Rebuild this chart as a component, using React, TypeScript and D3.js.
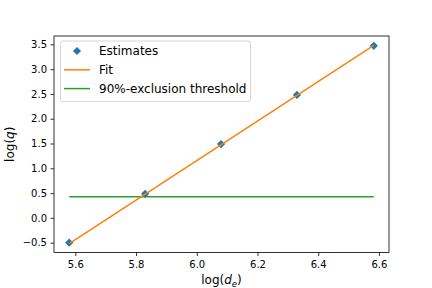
import React, { useEffect, useRef } from 'react';
import * as d3 from 'd3';

// values
const logDe = [5.58, 5.83, 6.08, 6.33, 6.583];
const logQ = [-0.5, 0.485, 1.49, 2.48, 3.47];
const fitX = [5.58, 6.583];
const fitY = [-0.52, 3.48];
const threshold = 0.425;
const xTicks = [5.6, 5.8, 6.0, 6.2, 6.4, 6.6];
const yTicks = [-0.5, 0.0, 0.5, 1.0, 1.5, 2.0, 2.5, 3.0, 3.5];
const legendItems = ['Estimates', 'Fit', '90%-exclusion threshold'];

const BLUE = '#1f77b4';
const ORANGE = '#ff7f0e';
const GREEN = '#2ca02c';
const FONT = 'DejaVu Sans, sans-serif';

export default function App() {
  const svgRef = useRef<SVGSVGElement>(null);

  useEffect(() => {
    if (!svgRef.current) return;
    const width = 432;
    const height = 288;
    const margin = { top: 36, right: 43, bottom: 35.5, left: 54 };

    const svg = d3.select(svgRef.current);
    svg.selectAll('*').remove();

    const x = d3.scaleLinear().domain([5.5298, 6.6332]).range([margin.left, width - margin.right]);
    const y = d3.scaleLinear().domain([-0.6985, 3.6685]).range([height - margin.bottom, margin.top]);

    svg.append('rect').attr('width', width).attr('height', height).attr('fill', '#fff');

    // axes
    const xAxis = svg.append('g')
      .attr('transform', `translate(0,${height - margin.bottom})`)
      .call(d3.axisBottom(x).tickValues(xTicks).tickSize(3.5).tickPadding(4.5).tickFormat(d3.format('.1f')) as any);
    const yAxis = svg.append('g')
      .attr('transform', `translate(${margin.left},0)`)
      .call(d3.axisLeft(y).tickValues(yTicks).tickSize(3.5).tickPadding(3.5).tickFormat((d: any) => d3.format('.1f')(d).replace('-', '\u2212')) as any);
    [xAxis, yAxis].forEach(a => {
      a.select('.domain').remove();
      a.selectAll('line').attr('stroke', '#000').attr('stroke-width', 0.8);
      a.selectAll('text').attr('font-family', FONT).attr('font-size', 10).attr('fill', '#000');
    });

    // frame
    svg.append('rect')
      .attr('x', margin.left).attr('y', margin.top)
      .attr('width', width - margin.left - margin.right)
      .attr('height', height - margin.top - margin.bottom)
      .attr('fill', 'none').attr('stroke', '#000').attr('stroke-width', 0.8);

    const line = d3.line<[number, number]>().x(d => x(d[0])).y(d => y(d[1]));

    // threshold
    svg.append('path')
      .attr('d', line([[fitX[0], threshold], [fitX[1], threshold]]))
      .attr('stroke', GREEN).attr('stroke-width', 1.5).attr('fill', 'none');

    // estimates
    const diamond = d3.symbol().type(d3.symbolSquare).size(34);
    svg.append('g').selectAll('path')
      .data(logDe.map((d, i) => [d, logQ[i]]))
      .enter().append('path')
      .attr('d', diamond() as string)
      .attr('transform', d => `translate(${x(d[0])},${y(d[1])}) rotate(45)`)
      .attr('fill', BLUE);

    // fit
    svg.append('path')
      .attr('d', line(fitX.map((d, i) => [d, fitY[i]] as [number, number])))
      .attr('stroke', ORANGE).attr('stroke-width', 1.5).attr('fill', 'none');

    // labels
    svg.append('text')
      .attr('x', (margin.left + width - margin.right) / 2).attr('y', 284)
      .attr('text-anchor', 'middle').attr('font-family', FONT).attr('font-size', 12)
      .html('log(<tspan font-style="italic">d</tspan><tspan font-style="italic" font-size="8.5" dy="2.5">e</tspan><tspan dy="-2.5">)</tspan>');
    svg.append('text')
      .attr('transform', `translate(13.5,${(margin.top + height - margin.bottom) / 2}) rotate(-90)`)
      .attr('text-anchor', 'middle').attr('font-family', FONT).attr('font-size', 12)
      .html('log(<tspan font-style="italic">q</tspan>)');

    // legend
    const lg = svg.append('g');
    lg.append('rect')
      .attr('x', 60.5).attr('y', 41).attr('width', 190).attr('height', 60.5).attr('rx', 2.5)
      .attr('fill', '#fff').attr('fill-opacity', 0.8).attr('stroke', '#ccc').attr('stroke-width', 0.8);
    const colors = [BLUE, ORANGE, GREEN];
    legendItems.forEach((t, i) => {
      const cy = 51 + i * 18.8;
      if (i === 0) {
        lg.append('path').attr('d', diamond() as string)
          .attr('transform', `translate(77,${cy}) rotate(45)`).attr('fill', BLUE);
      } else {
        lg.append('line').attr('x1', 64).attr('x2', 90).attr('y1', cy).attr('y2', cy)
          .attr('stroke', colors[i]).attr('stroke-width', 1.5);
      }
      lg.append('text').attr('x', 99).attr('y', cy + 4.3)
        .attr('font-family', FONT).attr('font-size', 12).attr('fill', '#000').text(t);
    });
  }, []);

  return (
    <div style={{ position: 'absolute', left: 0, top: 0, width: 432, height: 288 }}>
      <svg ref={svgRef} width={432} height={288} style={{ display: 'block' }} />
    </div>
  );
}
